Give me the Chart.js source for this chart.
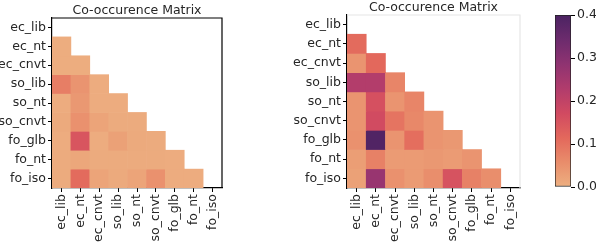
<!DOCTYPE html>
<html>
<head>
<meta charset="utf-8">
<script src="https://cdn.jsdelivr.net/npm/chart.js@4.4.1/dist/chart.umd.min.js"></script>
<style>
  body { margin: 0; background: #fff; width: 596px; height: 242px; overflow: hidden; position: relative; }
  canvas { position: absolute; top: 0; }
</style>
</head>
<body>
<canvas id="left" width="240" height="242" style="left:0;width:240px;height:242px"></canvas>
<canvas id="right" width="270" height="242" style="left:270px;width:270px;height:242px"></canvas>
<canvas id="cbar" width="70" height="242" style="left:530px;width:70px;height:242px"></canvas>
<script>
// data block
const labels = ['ec_lib', 'ec_nt', 'ec_cnvt', 'so_lib', 'so_nt', 'so_cnvt', 'fo_glb', 'fo_nt', 'fo_iso'];

// lower triangle, row by row (row i has i values)
const leftValues = [
    [],
    [0.005],
    [0.005, 0.005],
    [0.08, 0.045, 0.006],
    [0.006, 0.04, 0.006, 0.006],
    [0.01, 0.05, 0.02, 0.008, 0.008],
    [0.006, 0.15, 0.006, 0.025, 0.01, 0.008],
    [0.008, 0.015, 0.008, 0.008, 0.008, 0.008, 0.006],
    [0.008, 0.11, 0.02, 0.01, 0.02, 0.05, 0.006, 0.006]
];

const rightValues = [
    [],
    [0.11],
    [0.045, 0.115],
    [0.225, 0.225, 0.07],
    [0.045, 0.16, 0.045, 0.07],
    [0.045, 0.17, 0.095, 0.065, 0.045],
    [0.05, 0.39, 0.045, 0.105, 0.045, 0.04],
    [0.03, 0.075, 0.035, 0.035, 0.04, 0.035, 0.045],
    [0.025, 0.27, 0.05, 0.035, 0.055, 0.155, 0.075, 0.055]
];

const cbarTicks = [0, 0.1, 0.2, 0.3, 0.4];
const vmax = 0.4;
const title = 'Co-occurence Matrix';

// flare colormap stops
const flareStops = ['#edb081', '#e98d6b', '#e3685c', '#d14a61', '#b13c6c', '#8f3371', '#6c2b6d', '#4b2362'];
const flarePos = [0, 1/7, 2/7, 3/7, 4/7, 5/7, 6/7, 1];

function hex(c) {
    return [parseInt(c.slice(1, 3), 16), parseInt(c.slice(3, 5), 16), parseInt(c.slice(5, 7), 16)];
}

function flare(v) {
    let t = Math.max(0, Math.min(1, v / vmax));
    for (let k = 1; k < flarePos.length; k++) {
        if (t <= flarePos[k]) {
            const f = (t - flarePos[k - 1]) / (flarePos[k] - flarePos[k - 1]);
            const a = hex(flareStops[k - 1]), b = hex(flareStops[k]);
            const m = a.map((x, i) => Math.round(x + (b[i] - x) * f));
            return 'rgb(' + m.join(',') + ')';
        }
    }
    return flareStops[flareStops.length - 1];
}

const textColor = '#262626';
Chart.defaults.font.family = '"DejaVu Sans", sans-serif';
Chart.defaults.font.size = 12.5;
Chart.defaults.color = textColor;
Chart.defaults.animation = false;

// draws top / right edges of the plot box and the title centred over it
const framePlugin = {
    id: 'frame',
    afterDraw(chart, args, opts) {
        const a = chart.chartArea, c = chart.ctx;
        c.save();
        c.strokeStyle = opts.color;
        c.lineWidth = 1.2;
        c.beginPath();
        c.moveTo(a.left, a.top);
        c.lineTo(a.right, a.top);
        c.lineTo(a.right, a.bottom);
        c.stroke();
        c.fillStyle = textColor;
        c.font = '12.5px "DejaVu Sans", sans-serif';
        c.textAlign = 'center';
        c.textBaseline = 'middle';
        c.fillText(opts.text, (a.left + a.right) / 2, opts.titleY);
        c.restore();
    }
};

function heatmap(id, values, opt) {
    const datasets = values.map((row, i) => ({
        data: labels.map((l, j) => j < i ? [i, i + 1] : null),
        backgroundColor: labels.map((l, j) => j < i ? flare(row[j]) : 'rgba(0,0,0,0)'),
        borderWidth: 0,
        grouped: false,
        barPercentage: 1,
        categoryPercentage: 1
    }));
    return new Chart(document.getElementById(id), {
        type: 'bar',
        data: { labels: labels, datasets: datasets },
        plugins: [framePlugin],
        options: {
            responsive: false,
            layout: { padding: { right: opt.padRight, left: 0, bottom: 0, top: opt.top } },
            plugins: {
                legend: { display: false },
                tooltip: { enabled: false },
                frame: { color: opt.frameColor, text: title, titleY: opt.titleY }
            },
            scales: {
                x: {
                    grid: { offset: false, drawOnChartArea: false, tickLength: 4, color: '#000', lineWidth: 1 },
                    border: { color: '#000', width: 1.2 },
                    ticks: { minRotation: 90, maxRotation: 90, autoSkip: false, padding: 2 },
                    afterFit: s => { s.height = 54; }
                },
                y: {
                    type: 'linear',
                    min: 0,
                    max: labels.length,
                    reverse: true,
                    afterBuildTicks: s => { s.ticks = labels.map((l, i) => ({ value: i + 0.5 })); },
                    grid: { drawOnChartArea: false, tickLength: 4, color: '#000', lineWidth: 1 },
                    border: { color: '#000', width: 1.2 },
                    ticks: { autoSkip: false, padding: 2, callback: (v, i) => labels[i] },
                    afterFit: s => { s.width = opt.yWidth; }
                }
            }
        }
    });
}

heatmap('left', leftValues, { padRight: 18, top: 18, titleY: 10.5, yWidth: 52, frameColor: '#000' });
heatmap('right', rightValues, { padRight: 20, top: 15, titleY: 7.5, yWidth: 77, frameColor: '#e6e6e6' });

// colorbar
new Chart(document.getElementById('cbar'), {
    type: 'bar',
    data: {
        labels: [''],
        datasets: [{
            data: [[0, vmax]],
            backgroundColor: ctx => {
                const a = ctx.chart.chartArea;
                if (!a) return flareStops[0];
                const g = ctx.chart.ctx.createLinearGradient(0, a.bottom, 0, a.top);
                flareStops.forEach((c, k) => g.addColorStop(flarePos[k], c));
                return g;
            },
            borderColor: '#222',
            borderWidth: 1,
            borderSkipped: false,
            barPercentage: 1,
            categoryPercentage: 1
        }]
    },
    options: {
        responsive: false,
        layout: { padding: { left: 25, top: 15, bottom: 55, right: 0 } },
        plugins: { legend: { display: false }, tooltip: { enabled: false } },
        scales: {
            x: { display: false },
            y: {
                position: 'right',
                min: 0,
                max: vmax,
                afterBuildTicks: s => { s.ticks = cbarTicks.map(v => ({ value: v })); },
                grid: { drawOnChartArea: false, tickLength: 4, color: '#000' },
                border: { display: false },
                ticks: { padding: 2, callback: v => v.toFixed(1) },
                afterFit: s => { s.width = 29; }
            }
        }
    }
});
</script>
</body>
</html>
